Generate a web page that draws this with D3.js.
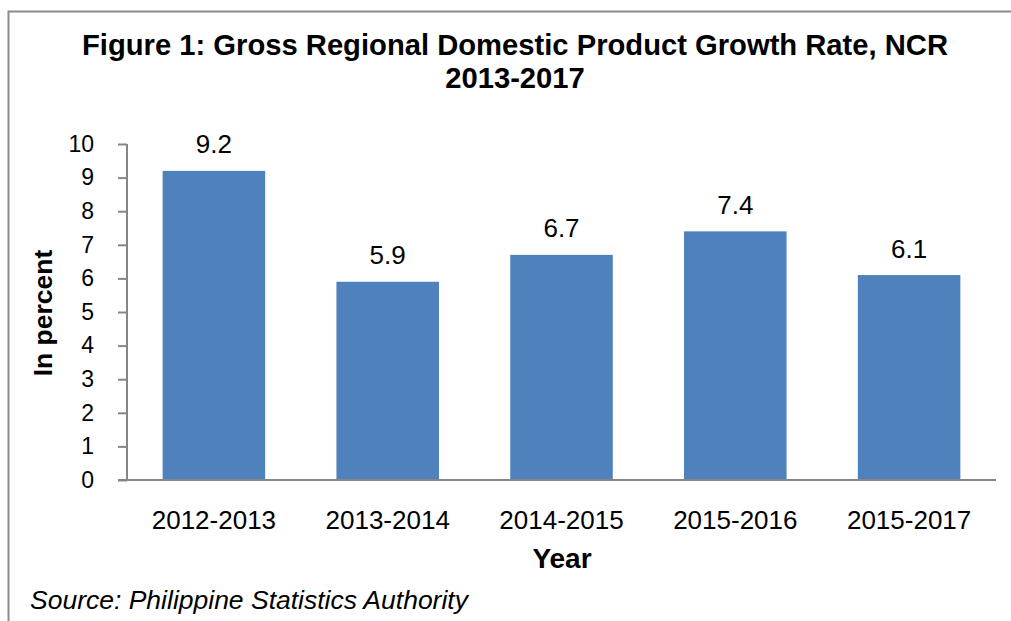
<!DOCTYPE html>
<html>
<head>
<meta charset="utf-8">
<script src="https://cdn.jsdelivr.net/npm/d3@7"></script>
<style>
  body { margin: 0; background: #fff; }
  text { font-family: Arial, "Liberation Sans", sans-serif; }
</style>
</head>
<body>
<div id="chart"></div>
<script>
const categories = ['2012-2013', '2013-2014', '2014-2015', '2015-2016', '2015-2017'];
const growthRates = [9.2, 5.9, 6.7, 7.4, 6.1];
const yTicks = [0, 1, 2, 3, 4, 5, 6, 7, 8, 9, 10];
const titleLines = ['Figure 1: Gross Regional Domestic Product Growth Rate, NCR', '2013-2017'];

const width = 1011, height = 621;
const plotLeft = 127, plotRight = 996, plotTop = 144, plotBottom = 480;
const axisColor = '#868686';
const fontFamily = 'Arial, "Liberation Sans", sans-serif';

const svg = d3.select('#chart')
    .append('svg')
    .attr('width', width)
    .attr('height', height);

// frame: only top and left edges are inside the crop
svg.append('path')
    .attr('d', `M8.5,${height} V11.5 H${width}`)
    .attr('fill', 'none')
    .attr('stroke', '#8c8c8c')
    .attr('stroke-width', 2);

const x = d3.scaleBand()
    .domain(categories)
    .range([plotLeft, plotRight])
    .paddingInner(0.41)
    .paddingOuter(0.205);

const y = d3.scaleLinear()
    .domain([0, 10])
    .range([plotBottom, plotTop]);

const barData = categories.map((c, i) => ({key: c, value: growthRates[i]}));

svg.selectAll('.bar')
    .data(barData)
    .enter()
    .append('rect')
    .attr('class', 'bar')
    .attr('x', d => x(d.key))
    .attr('width', x.bandwidth())
    .attr('y', d => y(d.value))
    .attr('height', d => y(0) - y(d.value))
    .attr('fill', '#4F81BD');

svg.selectAll('.val')
    .data(barData)
    .enter()
    .append('text')
    .attr('class', 'val')
    .attr('x', d => x(d.key) + x.bandwidth() / 2)
    .attr('y', d => y(d.value) - 17.5)
    .attr('text-anchor', 'middle')
    .attr('font-size', 26)
    .attr('fill', '#000')
    .text(d => d.value.toFixed(1));

// y axis
const yAxis = svg.append('g')
    .attr('transform', `translate(${plotLeft},0)`)
    .call(d3.axisLeft(y).tickValues(yTicks).tickSize(9).tickPadding(24).tickFormat(d3.format('d')));
yAxis.select('.domain').attr('stroke', axisColor).attr('stroke-width', 2)
    .attr('d', `M0,${plotTop}V${plotBottom}`);
yAxis.selectAll('.tick line').attr('stroke', axisColor).attr('stroke-width', 2);
yAxis.selectAll('.tick text').attr('font-size', 23).attr('fill', '#000')
    .attr('font-family', fontFamily);

// x axis
const xAxis = svg.append('g')
    .attr('transform', `translate(0,${plotBottom})`)
    .call(d3.axisBottom(x).tickSize(0).tickPadding(31));
xAxis.select('.domain').attr('stroke', axisColor).attr('stroke-width', 2)
    .attr('d', `M${plotLeft - 9},0H${plotRight}`);
xAxis.selectAll('.tick text').attr('font-size', 26).attr('fill', '#000')
    .attr('font-family', fontFamily);

// titles
svg.selectAll('.title')
    .data(titleLines)
    .enter()
    .append('text')
    .attr('class', 'title')
    .attr('x', 515)
    .attr('y', (d, i) => 54.5 + i * 33.5)
    .attr('text-anchor', 'middle')
    .attr('font-size', 29.2)
    .attr('font-weight', 'bold')
    .text(d => d);

svg.append('text')
    .attr('transform', 'translate(51.5,313) rotate(-90)')
    .attr('text-anchor', 'middle')
    .attr('font-size', 26.5)
    .attr('font-weight', 'bold')
    .text('In percent');

svg.append('text')
    .attr('x', 562)
    .attr('y', 567.5)
    .attr('text-anchor', 'middle')
    .attr('font-size', 28)
    .attr('font-weight', 'bold')
    .text('Year');

svg.append('text')
    .attr('x', 30)
    .attr('y', 609)
    .attr('font-size', 26.5)
    .attr('font-style', 'italic')
    .text('Source: Philippine Statistics Authority');
</script>
</body>
</html>
